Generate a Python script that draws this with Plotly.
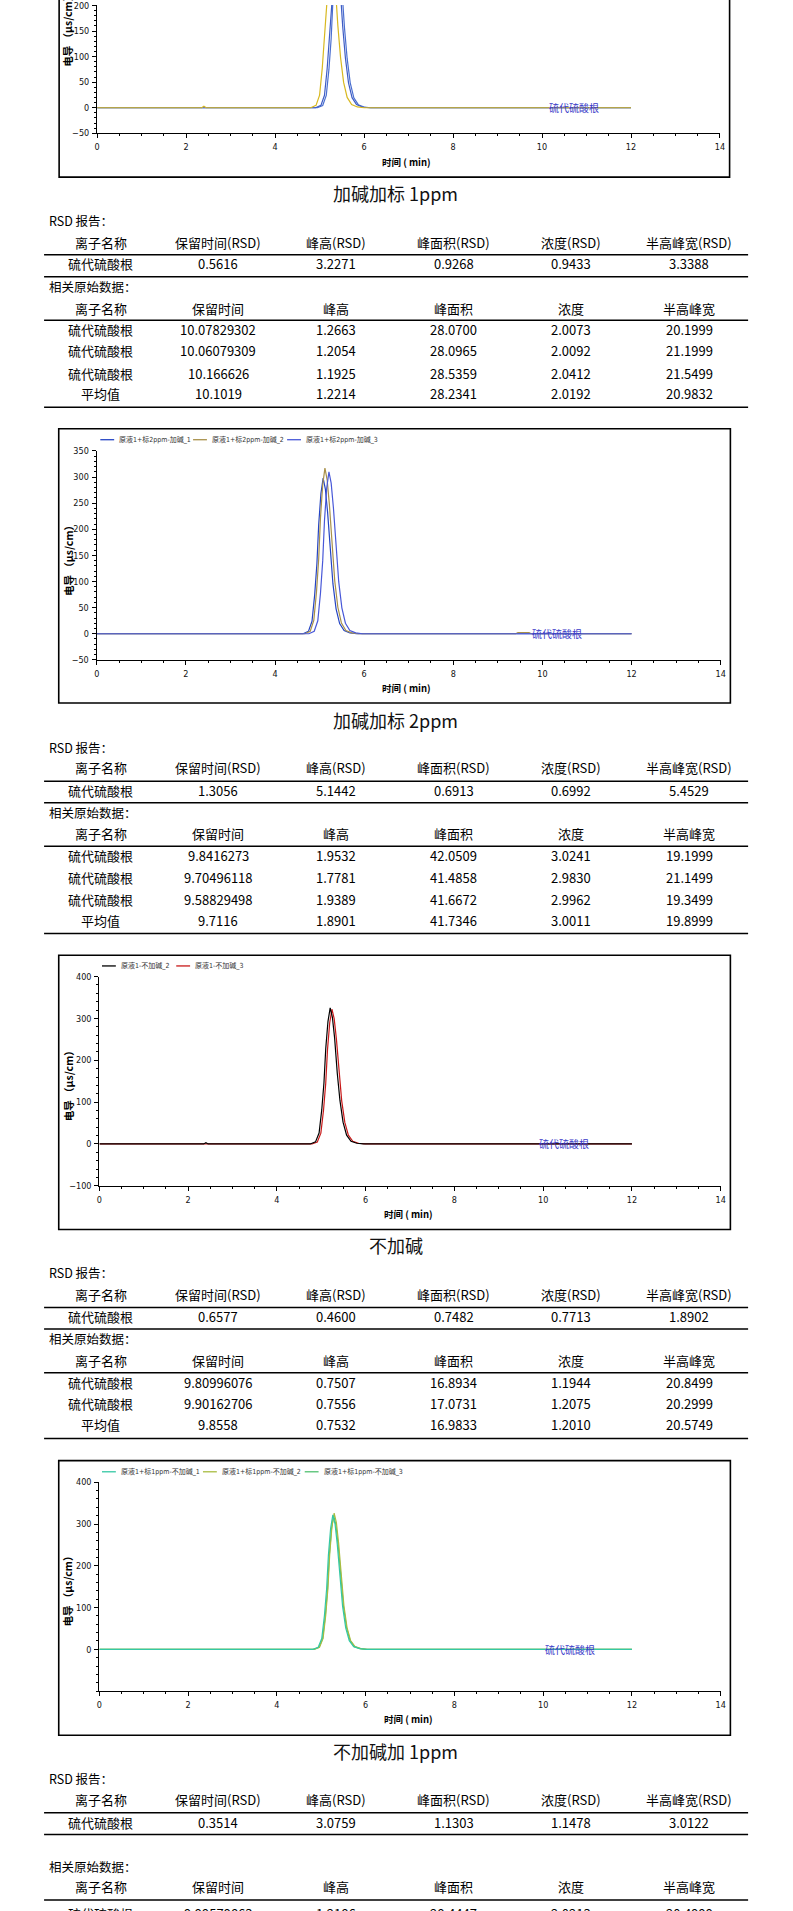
import plotly.graph_objects as go

W, H = 793, 1911


def fx(px):
    return px / W


def fy(py):
    return 1 - py / H


# ---------------------------------------------------------------- data
chart_titles = ["加碱加标 1ppm", "加碱加标 2ppm", "不加碱", "不加碱加 1ppm"]
x_title = "时间 ( min)"
y_title = "电导 （μs/cm）"
peak_label = "硫代硫酸根"
x_ticks = [0, 2, 4, 6, 8, 10, 12, 14]

# chart 1 (upper part is cut off by the page)
c1_names = ["原液1+标1ppm-加碱_1", "原液1+标1ppm-加碱_3", "原液1+标1ppm-加碱_2"]
c1_colors = ["#4A6FD0", "#3E5CC4", "#D8B820"]
c1_t = [
    [0, 4.95, 5.07, 5.15, 5.21, 5.26, 5.30, 5.35, 5.40, 5.45, 5.50, 5.56, 5.62, 5.69, 5.77, 5.87, 6.00, 6.15, 12],
    [0, 4.91, 5.03, 5.11, 5.17, 5.22, 5.26, 5.31, 5.36, 5.41, 5.46, 5.52, 5.58, 5.65, 5.73, 5.83, 5.96, 6.11, 12],
    [0, 2.35, 2.40, 2.45, 4.80, 4.92, 5.00, 5.06, 5.11, 5.15, 5.20, 5.25, 5.30, 5.35, 5.41, 5.47, 5.54, 5.62, 5.72, 5.85, 6.00, 12],
]
c1_y = [
    [0, 0, 4.5, 24, 75, 135, 210, 270, 300, 279, 234, 156, 96, 48, 19.5, 6, 1.5, 0, 0],
    [0, 0, 4.6, 24.4, 76.3, 137.3, 213.5, 274.5, 305, 283.7, 237.9, 158.6, 97.6, 48.8, 19.8, 6.1, 1.5, 0, 0],
    [0, 0, 3, 0, 0, 4.7, 24.8, 77.5, 139.5, 217, 279, 310, 288.3, 241.8, 161.2, 99.2, 49.6, 20.2, 6.2, 1.6, 0, 0],
]

# chart 2
c2_names = ["原液1+标2ppm-加碱_1", "原液1+标2ppm-加碱_2", "原液1+标2ppm-加碱_3"]
c2_colors = ["#2444C4", "#A8904A", "#4858D8"]
c2_t = [
    [0, 4.63, 4.75, 4.83, 4.89, 4.94, 4.98, 5.03, 5.08, 5.13, 5.18, 5.24, 5.30, 5.37, 5.45, 5.55, 5.68, 5.83, 12],
    [0, 4.67, 4.79, 4.87, 4.93, 4.98, 5.02, 5.07, 5.12, 5.17, 5.22, 5.28, 5.34, 5.41, 5.49, 5.59, 5.72, 5.87, 9.40, 9.45, 9.70, 9.75, 12],
    [0, 4.76, 4.88, 4.96, 5.02, 5.07, 5.11, 5.16, 5.21, 5.26, 5.31, 5.37, 5.43, 5.50, 5.58, 5.68, 5.81, 5.96, 12],
]
c2_y = [
    [0, 0, 4.5, 23.8, 74.5, 134.1, 208.6, 268.2, 298, 277.1, 232.4, 155, 95.4, 47.7, 19.4, 6, 1.5, 0, 0],
    [0, 0, 4.8, 25.4, 79.3, 142.7, 221.9, 285.3, 317, 294.8, 247.3, 164.8, 101.4, 50.7, 20.6, 6.3, 1.6, 0, 0, 2, 2, 0, 0],
    [0, 0, 4.7, 24.8, 77.5, 139.5, 217, 279, 310, 288.3, 241.8, 161.2, 99.2, 49.6, 20.2, 6.2, 1.6, 0, 0],
]

# chart 3
c3_names = ["原液1-不加碱_2", "原液1-不加碱_3"]
c3_colors = ["#000000", "#C81818"]
c3_t = [
    [0, 2.35, 2.40, 2.45, 4.75, 4.87, 4.95, 5.01, 5.06, 5.10, 5.15, 5.20, 5.25, 5.30, 5.36, 5.42, 5.49, 5.57, 5.67, 5.80, 5.95, 12],
    [0, 4.79, 4.91, 4.99, 5.05, 5.10, 5.14, 5.19, 5.24, 5.29, 5.34, 5.40, 5.46, 5.53, 5.61, 5.71, 5.84, 5.99, 12],
]
c3_y = [
    [0, 0, 3, 0, 0, 4.9, 26, 81.3, 146.3, 227.5, 292.5, 325, 302.3, 253.5, 169, 104, 52, 21.1, 6.5, 1.6, 0, 0],
    [0, 0, 4.8, 25.8, 80.5, 144.9, 225.4, 289.8, 322, 299.5, 251.2, 167.4, 103, 51.5, 20.9, 6.4, 1.6, 0, 0],
]

# chart 4
c4_names = ["原液1+标1ppm-不加碱_1", "原液1+标1ppm-不加碱_2", "原液1+标1ppm-不加碱_3"]
c4_colors = ["#34C8A4", "#A8BC40", "#50C070"]
c4_t = [
    [0, 4.81, 4.93, 5.01, 5.07, 5.12, 5.16, 5.21, 5.26, 5.31, 5.36, 5.42, 5.48, 5.55, 5.63, 5.73, 5.86, 6.01, 12],
    [0, 4.84, 4.96, 5.04, 5.10, 5.15, 5.19, 5.24, 5.29, 5.34, 5.39, 5.45, 5.51, 5.58, 5.66, 5.76, 5.89, 6.04, 12],
    [0, 4.83, 4.95, 5.03, 5.09, 5.14, 5.18, 5.23, 5.28, 5.33, 5.38, 5.44, 5.50, 5.57, 5.65, 5.75, 5.88, 6.03, 12],
]
c4_y = [
    [0, 0, 4.8, 25.8, 80.5, 144.9, 225.4, 289.8, 322, 299.5, 251.2, 167.4, 103, 51.5, 20.9, 6.4, 1.6, 0, 0],
    [0, 0, 4.9, 26.1, 81.5, 146.7, 228.2, 293.4, 326, 303.2, 254.3, 169.5, 104.3, 52.2, 21.2, 6.5, 1.6, 0, 0],
    [0, 0, 4.8, 25.6, 80, 144, 224, 288, 320, 297.6, 249.6, 166.4, 102.4, 51.2, 20.8, 6.4, 1.6, 0, 0],
]

# tables
rsd_caption = "RSD 报告："
raw_caption = "相关原始数据："
rsd_header = ["离子名称", "保留时间(RSD)", "峰高(RSD)", "峰面积(RSD)", "浓度(RSD)", "半高峰宽(RSD)"]
raw_header = ["离子名称", "保留时间", "峰高", "峰面积", "浓度", "半高峰宽"]

t1_rsd = ["硫代硫酸根", "0.5616", "3.2271", "0.9268", "0.9433", "3.3388"]
t1_raw = [
    ["硫代硫酸根", "10.07829302", "1.2663", "28.0700", "2.0073", "20.1999"],
    ["硫代硫酸根", "10.06079309", "1.2054", "28.0965", "2.0092", "21.1999"],
    ["硫代硫酸根", "10.166626", "1.1925", "28.5359", "2.0412", "21.5499"],
    ["平均值", "10.1019", "1.2214", "28.2341", "2.0192", "20.9832"],
]
t2_rsd = ["硫代硫酸根", "1.3056", "5.1442", "0.6913", "0.6992", "5.4529"]
t2_raw = [
    ["硫代硫酸根", "9.8416273", "1.9532", "42.0509", "3.0241", "19.1999"],
    ["硫代硫酸根", "9.70496118", "1.7781", "41.4858", "2.9830", "21.1499"],
    ["硫代硫酸根", "9.58829498", "1.9389", "41.6672", "2.9962", "19.3499"],
    ["平均值", "9.7116", "1.8901", "41.7346", "3.0011", "19.8999"],
]
t3_rsd = ["硫代硫酸根", "0.6577", "0.4600", "0.7482", "0.7713", "1.8902"]
t3_raw = [
    ["硫代硫酸根", "9.80996076", "0.7507", "16.8934", "1.1944", "20.8499"],
    ["硫代硫酸根", "9.90162706", "0.7556", "17.0731", "1.2075", "20.2999"],
    ["平均值", "9.8558", "0.7532", "16.9833", "1.2010", "20.5749"],
]
t4_rsd = ["硫代硫酸根", "0.3514", "3.0759", "1.1303", "1.1478", "3.0122"]
t4_raw = [
    ["硫代硫酸根", "9.99579863", "1.2186", "28.4447", "2.0213", "20.4999"],
]

# ---------------------------------------------------------------- layout constants
CJK = "Noto Sans CJK SC, Noto Sans, sans-serif"
TICK = "Liberation Sans Narrow, DejaVu Sans Condensed, Liberation Sans, Arial, sans-serif"
LEG = "Liberation Sans Narrow, DejaVu Sans Condensed, Noto Sans CJK SC, sans-serif"
tickfont = dict(family=TICK, size=9, color="#111111")

charts = [
    dict(t=c1_t, y=c1_y, names=c1_names, colors=c1_colors, order=[0, 1, 2],
         frame=(56.7, -120, 734.0, 173.0), plot=(95.1, 0.0, 724.3, 129.0),
         yr=[-50, 201], yt=[-50, 0, 50, 100, 150, 200], ym=10, top=False,
         leg_y=None, leg_x=[], lab_x=float(t1_raw[-1][1]), ytitle_y=24),
    dict(t=c2_t, y=c2_y, names=c2_names, colors=c2_colors, order=[0, 1, 2],
         frame=(56.3, 426.0, 734.8, 701.7), plot=(94.7, 448.3, 725.0, 658.3),
         yr=[-50, 350], yt=[-50, 0, 50, 100, 150, 200, 250, 300, 350], ym=10, top=True,
         leg_y=437.0, leg_x=[98.3, 192.0, 287.0], lab_x=float(t2_raw[-1][1]), ytitle_y=556),
    dict(t=c3_t, y=c3_y, names=c3_names, colors=c3_colors, order=[1, 0],
         frame=(56.3, 955.3, 734.8, 1231.0), plot=(97.4, 976.7, 725.0, 1187.0),
         yr=[-100, 400], yt=[-100, 0, 100, 200, 300, 400], ym=20, top=True,
         leg_y=966.0, leg_x=[100.0, 175.0], lab_x=float(t3_raw[-1][1]), ytitle_y=1084),
    dict(t=c4_t, y=c4_y, names=c4_names, colors=c4_colors, order=[2, 1, 0],
         frame=(56.3, 1463.3, 734.8, 1739.3), plot=(97.4, 1485.0, 725.0, 1695.0),
         yr=[-100, 400], yt=[0, 100, 200, 300, 400], ym=20, top=True,
         leg_y=1474.5, leg_x=[100.0, 202.0, 304.8], lab_x=float(t4_raw[0][1]), ytitle_y=1592),
]

tables = [
    dict(rsd=t1_rsd, raw=t1_raw, title=189.0, rsd_lbl=216.7, hdr1=238.3, rule1=251.0, data=260.3,
         rule2=273.3, raw_lbl=283.3, hdr2=305.0, rule3=317.0, rows=[326.0, 347.7, 370.0, 391.0], bottom=404.3),
    dict(rsd=t2_rsd, raw=t2_raw, title=718.3, rsd_lbl=746.0, hdr1=766.7, rule1=780.3, data=789.3,
         rule2=802.0, raw_lbl=812.0, hdr2=833.3, rule3=845.7, rows=[855.3, 876.7, 899.0, 920.3], bottom=933.3),
    dict(rsd=t3_rsd, raw=t3_raw, title=1246.7, rsd_lbl=1274.3, hdr1=1296.0, rule1=1309.3, data=1318.7,
         rule2=1331.0, raw_lbl=1341.0, hdr2=1362.7, rule3=1375.0, rows=[1384.3, 1405.7, 1427.3], bottom=1441.0),
    dict(rsd=t4_rsd, raw=t4_raw, title=1755.0, rsd_lbl=1783.3, hdr1=1804.0, rule1=1817.3, data=1826.7,
         rule2=1839.0, raw_lbl=1871.0, hdr2=1891.7, rule3=1905.0, rows=[1918.5], bottom=None),
]
col_x = [98.6, 217.5, 336.4, 455.2, 574.0, 693.0]
rule_x0, rule_x1 = 41.5, 752.7
cap_x = 44.5

fig = go.Figure()
shapes = []
annotations = []


def txt(x, y, s, size, xanchor="center", color="black", family=CJK, **kw):
    annotations.append(dict(x=fx(x), y=fy(y), xref="paper", yref="paper", text=s,
                            showarrow=False, xanchor=xanchor, yanchor="middle",
                            font=dict(size=size, color=color, family=family), **kw))


def hline(x0, x1, y, width=1.5, color="black"):
    shapes.append(dict(type="line", xref="paper", yref="paper", x0=fx(x0), x1=fx(x1),
                       y0=fy(y), y1=fy(y), line=dict(color=color, width=width)))


axis_line = dict(showline=True, linecolor="black", linewidth=1.3, showgrid=False,
                 zeroline=False, fixedrange=True)

for i, c in enumerate(charts, start=1):
    xs = "" if i == 1 else str(i)
    xa, ya = "x" + xs, "y" + xs
    xl, yt_px, xr, yb_px = c["plot"]

    for k in c["order"]:
        fig.add_trace(go.Scatter(x=c["t"][k], y=c["y"][k], mode="lines", name=c["names"][k],
                                 line=dict(color=c["colors"][k], width=1.2),
                                 xaxis=xa, yaxis=ya, showlegend=False, hoverinfo="skip"))

    fig.layout["xaxis" + xs] = dict(
        domain=[fx(xl), fx(xr)], range=[0, 14], anchor=ya, tickmode="array", tickvals=x_ticks,
        ticks="outside", ticklen=4, tickwidth=1, tickcolor="black",
        minor=dict(tickmode="linear", tick0=0, dtick=0.5, ticks="outside", ticklen=2,
                   tickcolor="black", tickwidth=1),
        tickfont=tickfont, ticklabelstandoff=1, **axis_line)
    fig.layout["yaxis" + xs] = dict(
        domain=[fy(yb_px), fy(yt_px)], range=c["yr"], anchor=xa, tickmode="array", tickvals=c["yt"],
        ticks="outside", ticklen=4, tickwidth=1, tickcolor="black",
        minor=dict(tickmode="linear", tick0=0, dtick=c["ym"], ticks="outside", ticklen=2,
                   tickcolor="black", tickwidth=1),
        tickfont=tickfont, ticklabelstandoff=1, **axis_line)

    # mirrored right / top axes with inside ticks
    ox = str(i + 4)
    fig.layout["yaxis" + ox] = dict(
        overlaying=ya, side="right", anchor=xa, range=c["yr"], tickmode="array", tickvals=c["yt"],
        ticks="inside", ticklen=4, tickwidth=1, tickcolor="black", showticklabels=False,
        minor=dict(tickmode="linear", tick0=0, dtick=c["ym"], ticks="inside", ticklen=2,
                   tickcolor="black"), **axis_line)
    if c["top"]:
        fig.layout["xaxis" + ox] = dict(
            overlaying=xa, side="top", anchor=ya, range=[0, 14], tickmode="linear", tick0=0,
            dtick=0.5, ticks="inside", ticklen=3, tickwidth=1, tickcolor="black",
            showticklabels=False, **axis_line)

    # frame
    f0, f1, f2, f3 = c["frame"]
    shapes.append(dict(type="rect", xref="paper", yref="paper", x0=fx(f0), x1=fx(f2),
                       y0=fy(f3), y1=fy(f1), line=dict(color="black", width=1.6)))

    # axis titles
    txt((xl + xr) / 2 - 2, yb_px + 28.5, "<b>" + x_title + "</b>", 9.5)
    txt(65.6, c["ytitle_y"], "<b>" + y_title + "</b>", 10.5, textangle=-90)

    # peak label
    annotations.append(dict(x=c["lab_x"], y=0, xref=xa, yref=ya, text=peak_label, showarrow=False,
                            xanchor="left", yanchor="middle",
                            font=dict(size=10, color="#3A3AC8", family=CJK)))

    # legend (drawn by hand, one row)
    if c["leg_y"] is not None:
        for k, lx in enumerate(c["leg_x"]):
            shapes.append(dict(type="line", xref="paper", yref="paper", x0=fx(lx), x1=fx(lx + 14),
                               y0=fy(c["leg_y"]), y1=fy(c["leg_y"]),
                               line=dict(color=c["colors"][k], width=1.3)))
            txt(lx + 17, c["leg_y"], c["names"][k], 7, xanchor="left", color="#333333", family=LEG)

# tables
for i, tb in enumerate(tables):
    txt(397, tb["title"], chart_titles[i], 18, color="#111111")
    txt(cap_x, tb["rsd_lbl"], rsd_caption, 12.5, xanchor="left")
    for j, s in enumerate(rsd_header):
        txt(col_x[j], tb["hdr1"], s, 13)
    hline(rule_x0, rule_x1, tb["rule1"])
    for j, s in enumerate(tb["rsd"]):
        txt(col_x[j], tb["data"], s, 13)
    hline(rule_x0, rule_x1, tb["rule2"])
    txt(cap_x, tb["raw_lbl"], raw_caption, 12.5, xanchor="left")
    for j, s in enumerate(raw_header):
        txt(col_x[j], tb["hdr2"], s, 13)
    hline(rule_x0, rule_x1, tb["rule3"])
    for r, row in enumerate(tb["raw"]):
        for j, s in enumerate(row):
            txt(col_x[j], tb["rows"][r], s, 13)
    if tb["bottom"] is not None:
        hline(rule_x0, rule_x1, tb["bottom"])

fig.update_layout(width=W, height=H, autosize=False, margin=dict(l=0, r=0, t=0, b=0),
                  paper_bgcolor="white", plot_bgcolor="white", showlegend=False,
                  shapes=shapes, annotations=annotations)

fig.write_html("out.html", config={"displayModeBar": False},
               post_script="document.body.style.margin='0';document.body.style.overflow='hidden';")
